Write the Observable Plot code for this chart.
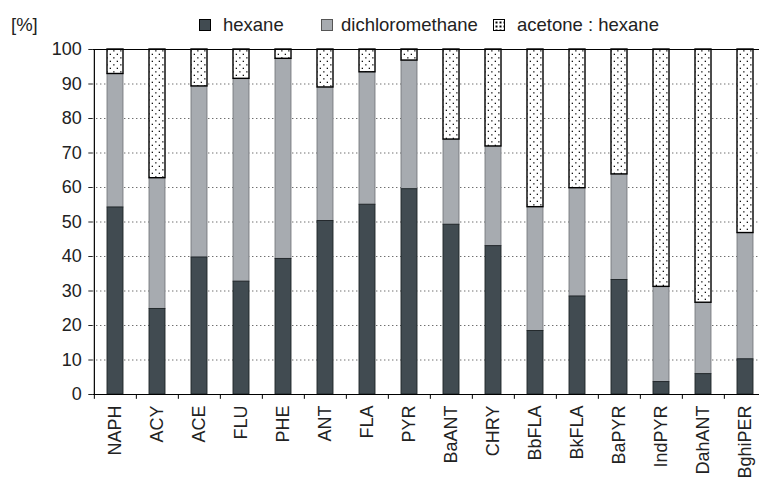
<!DOCTYPE html>
<html><head><meta charset="utf-8">
<script src="https://cdn.jsdelivr.net/npm/d3@7"></script>
<script src="https://cdn.jsdelivr.net/npm/@observablehq/plot@0.6"></script>
<style>
body{margin:0;background:#fff;font-family:"Liberation Sans",Arial,sans-serif;}
#wrap{position:relative;width:759px;height:479px;overflow:hidden;background:#fff}
.t{position:absolute;font-size:18.5px;line-height:20px;color:#222;white-space:nowrap}
.sq{position:absolute;width:12px;height:12px;box-sizing:border-box;border:1.5px solid #000}
</style></head><body><div id="wrap"></div>
<script>
const categories = ["NAPH","ACY","ACE","FLU","PHE","ANT","FLA","PYR","BaANT","CHRY","BbFLA","BkFLA","BaPYR","IndPYR","DahANT","BghiPER"];
const hexane = [54.2,24.8,39.7,32.7,39.3,50.3,55.0,59.5,49.2,43.0,18.4,28.4,33.2,3.6,5.9,10.2];
const dichloromethane = [38.7,37.9,49.6,58.8,58.0,38.7,38.4,37.3,24.7,28.9,35.9,31.4,30.6,27.6,20.7,36.6];
const acetoneHexane = [7.1,37.3,10.7,8.5,2.7,11.0,6.6,3.2,26.1,28.1,45.7,40.2,36.2,68.8,73.4,53.2];
const seriesNames = ["hexane","dichloromethane","acetone : hexane"];
const yTicks = d3.range(0, 101, 10);

const rows = categories.flatMap((c, i) => {
  const a = hexane[i], b = dichloromethane[i], e = acetoneHexane[i];
  return [
    {c, s: seriesNames[0], y1: 0, y2: a},
    {c, s: seriesNames[1], y1: a, y2: a + b},
    {c, s: seriesNames[2], y1: a + b, y2: a + b + e}
  ];
});

const W = 759, H = 479, mL = 92.3, mR = -10, mT = 49, mB = 85;
const step = (W - mR - mL) / categories.length;

const chart = Plot.plot({
  width: W, height: H,
  marginLeft: mL, marginRight: mR, marginTop: mT, marginBottom: mB,
  style: {fontFamily: "'Liberation Sans', Arial, sans-serif", fontSize: "18px", color: "#222", overflow: "hidden", background: "white"},
  x: {domain: categories, paddingInner: 0.61, paddingOuter: 0.305, tickSize: 0, tickPadding: 11, tickRotate: -90, label: null},
  y: {domain: [0, 100], ticks: yTicks, tickSize: 4, tickPadding: 7, label: null},
  marks: [
    Plot.ruleY(yTicks.filter(t => t > 0 && t < 100), {stroke: "#333", strokeDasharray: "1,3", strokeWidth: 1}),
    Plot.barY(rows.filter(r => r.s === seriesNames[1]), {x: "c", y1: "y1", y2: "y2", fill: "#a7abb0", stroke: "#6e7276", strokeWidth: 0.8}),
    Plot.barY(rows.filter(r => r.s === seriesNames[0]), {x: "c", y1: "y1", y2: "y2", fill: "#414b51", stroke: "#1e2427", strokeWidth: 0.9}),
    Plot.barY(rows.filter(r => r.s === seriesNames[2]), {x: "c", y1: "y1", y2: "y2", fill: "url(#dots)", stroke: "#000", strokeWidth: 1.4}),
    Plot.ruleY([0, 100], {stroke: "#000", strokeWidth: 1.2}),
    Plot.ruleX([categories[0]], {x: d => d, y1: 0, y2: 100, dx: -step / 2, stroke: "#000", strokeWidth: 1.2}),
    Plot.ruleX(categories, {x: d => d, y1: 0, y2: -1.4, dx: -step / 2, stroke: "#000", strokeWidth: 1})
  ]
});

const ns = "http://www.w3.org/2000/svg";
const defs = document.createElementNS(ns, "defs");
defs.innerHTML = '<pattern id="dots" width="7" height="7" patternUnits="userSpaceOnUse"><rect width="7" height="7" fill="#fff"/><rect x="1.2" y="1.2" width="1.3" height="1.3" fill="#111"/><rect x="4.7" y="4.7" width="1.3" height="1.3" fill="#111"/></pattern>';
chart.prepend(defs);

const wrap = document.getElementById("wrap");
wrap.appendChild(chart);
chart.style.position = "absolute"; chart.style.left = "0"; chart.style.top = "0";

function addText(txt, x, y) { const d = document.createElement("div"); d.className = "t"; d.textContent = txt; d.style.left = x + "px"; d.style.top = y + "px"; wrap.appendChild(d); }
function addSq(x, y, bg) { const d = document.createElement("div"); d.className = "sq"; d.style.left = x + "px"; d.style.top = y + "px"; d.style.background = bg; wrap.appendChild(d); return d; }

addText("[%]", 11, 15);
const legendX = [[199, 223], [321, 341], [493, 517]];
const legendFill = ["#414b51", "#a7abb0", "#fff"];
seriesNames.forEach((s, i) => {
  const q = addSq(legendX[i][0], 19, legendFill[i]);
  if (i === 1) q.style.borderColor = "#555";
  if (i === 2) {
    q.style.backgroundImage = "radial-gradient(circle, #000 0.8px, transparent 1px)";
    q.style.backgroundSize = "4px 4px";
    q.style.backgroundPosition = "0.5px 0.5px";
  }
  addText(s, legendX[i][1], 15);
});
</script></body></html>
